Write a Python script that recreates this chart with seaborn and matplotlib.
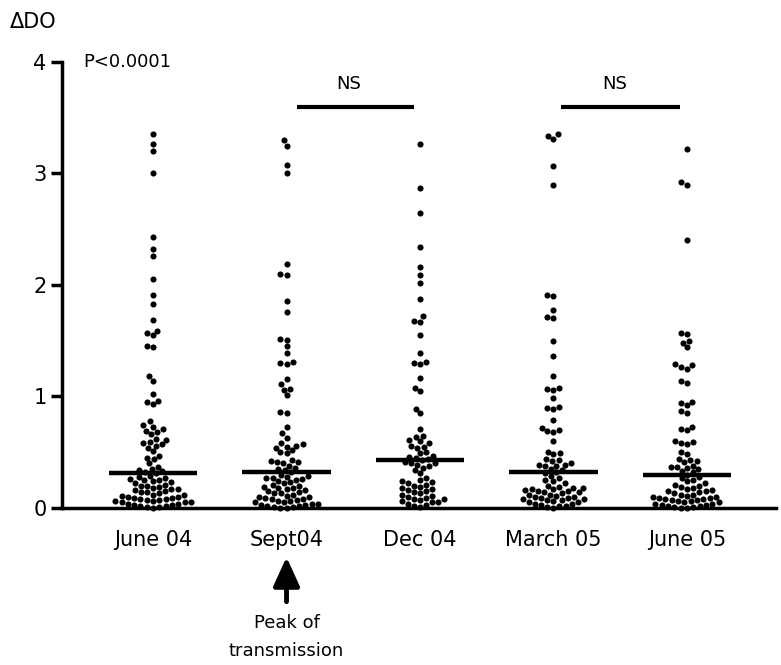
import matplotlib
matplotlib.use("Agg")
import matplotlib.pyplot as plt
import numpy as np
import pandas as pd
import seaborn as sns

# Time points
groups = ["June 04", "Sept04", "Dec 04", "March 05", "June 05"]

june04 = [3.35, 3.26, 3.20, 3.00, 2.43, 2.32, 2.26, 2.05, 1.91, 1.83, 1.69, 1.59,
          1.57, 1.55, 1.45, 1.44, 1.18, 1.14, 1.02, 0.96, 0.95, 0.93,
          0.78, 0.74, 0.73, 0.71, 0.69, 0.68, 0.66, 0.62, 0.61, 0.59, 0.58, 0.57,
          0.56, 0.54, 0.51, 0.47, 0.45, 0.44, 0.40, 0.37, 0.35, 0.34, 0.33, 0.32,
          0.31,
          0.29, 0.28, 0.27, 0.26, 0.25, 0.25, 0.24, 0.23, 0.22, 0.21, 0.20, 0.20,
          0.19, 0.18, 0.17, 0.17, 0.16, 0.15, 0.14, 0.14, 0.13, 0.12, 0.12, 0.11,
          0.10, 0.10, 0.09, 0.09, 0.08, 0.08, 0.07, 0.07, 0.06, 0.06, 0.05, 0.05,
          0.05, 0.04, 0.04, 0.03, 0.03, 0.02, 0.02, 0.01, 0.01, 0.00]
sept04 = [3.30, 3.25, 3.08, 3.00, 2.19, 2.10, 2.09, 1.86, 1.76, 1.52, 1.51, 1.45,
          1.39, 1.31, 1.30, 1.29, 1.16, 1.11, 1.07, 1.06, 1.01, 0.86, 0.85, 0.73,
          0.67, 0.63, 0.58, 0.57, 0.56, 0.55, 0.54, 0.52, 0.50, 0.49, 0.43, 0.42,
          0.41, 0.41, 0.40, 0.38, 0.36, 0.35, 0.34,
          0.32,
          0.30, 0.29, 0.28, 0.27, 0.27, 0.26, 0.25, 0.24, 0.23, 0.22, 0.21, 0.20,
          0.19, 0.18, 0.18, 0.17, 0.16, 0.15, 0.14, 0.13, 0.13, 0.12, 0.11, 0.10,
          0.10, 0.09, 0.08, 0.08, 0.07, 0.06, 0.06, 0.05, 0.05, 0.04, 0.04, 0.03,
          0.03, 0.02, 0.02, 0.01, 0.01, 0.00, 0.00]
dec04 = [3.26, 2.87, 2.65, 2.34, 2.16, 2.09, 2.02, 1.87, 1.72, 1.68, 1.67, 1.55,
         1.39, 1.31, 1.30, 1.29, 1.17, 1.08, 1.05, 0.89, 0.85, 0.71, 0.65, 0.64,
         0.61, 0.60, 0.58, 0.56, 0.55, 0.54, 0.50, 0.49, 0.47, 0.46, 0.45, 0.44,
         0.43,
         0.41, 0.40, 0.40, 0.39, 0.38, 0.36, 0.34, 0.31, 0.27, 0.25, 0.24, 0.23,
         0.22, 0.21, 0.20, 0.19, 0.18, 0.17, 0.16, 0.15, 0.14, 0.13, 0.12, 0.11,
         0.10, 0.09, 0.08, 0.08, 0.07, 0.06, 0.05, 0.05, 0.04, 0.03, 0.02, 0.01]
march05 = [3.35, 3.34, 3.31, 3.07, 2.90, 1.91, 1.90, 1.78, 1.71, 1.70, 1.50, 1.36,
           1.18, 1.08, 1.07, 1.06, 0.99, 0.91, 0.90, 0.89, 0.79, 0.72, 0.70, 0.69,
           0.68, 0.60, 0.50, 0.49, 0.48, 0.44, 0.43, 0.42, 0.40, 0.39, 0.39, 0.38,
           0.38, 0.35, 0.34,
           0.32,
           0.31, 0.29, 0.27, 0.25, 0.24, 0.22, 0.20, 0.19, 0.18, 0.18, 0.17, 0.17,
           0.16, 0.15, 0.15, 0.14, 0.14, 0.13, 0.12, 0.12, 0.11, 0.10, 0.10, 0.09,
           0.09, 0.08, 0.08, 0.07, 0.07, 0.06, 0.05, 0.05, 0.04, 0.04, 0.03, 0.02,
           0.02, 0.01, 0.00]
june05 = [3.22, 2.92, 2.90, 2.40, 1.57, 1.56, 1.50, 1.48, 1.44, 1.29, 1.28, 1.26,
          1.25, 1.14, 1.12, 0.95, 0.94, 0.92, 0.87, 0.85, 0.73, 0.71, 0.70, 0.60,
          0.59, 0.58, 0.57, 0.50, 0.48, 0.44, 0.43, 0.42, 0.41, 0.38, 0.37, 0.37,
          0.36, 0.35, 0.33, 0.32,
          0.30,
          0.28, 0.27, 0.25, 0.24, 0.22, 0.21, 0.20, 0.19, 0.18, 0.17, 0.16, 0.15,
          0.15, 0.14, 0.13, 0.12, 0.12, 0.11, 0.10, 0.10, 0.09, 0.09, 0.08, 0.08,
          0.07, 0.07, 0.06, 0.06, 0.05, 0.05, 0.04, 0.04, 0.03, 0.03, 0.02, 0.02,
          0.01, 0.01, 0.00, 0.00]

values = [june04, sept04, dec04, march05, june05]
df = pd.DataFrame({
    "group": np.repeat(groups, [len(v) for v in values]),
    "value": np.concatenate(values),
})

sns.set_style("ticks")
plt.rcParams["font.family"] = ["DejaVu Sans"]
plt.rcParams.update({
    "text.color": "black",
    "axes.edgecolor": "black",
    "xtick.color": "black",
    "ytick.color": "black",
    "axes.labelcolor": "black",
})

fig = plt.figure(figsize=(7.81, 6.65), dpi=100)
ax = fig.add_axes([0.0794, 0.2361, 0.9142, 0.6707])

sns.swarmplot(data=df, x="group", y="value", order=groups, color="black",
              size=4.4, ax=ax, warn_thresh=1)
for coll in ax.collections:
    coll.set_clip_on(False)

# median bars
medians = [np.median(v) for v in values]
ax.hlines(medians, np.arange(len(groups)) - 0.33, np.arange(len(groups)) + 0.33,
          color="black", lw=3.2, zorder=5)

ax.set_xlim(-0.682, 4.667)
ax.set_ylim(0, 4)
ax.set_yticks([0, 1, 2, 3, 4])
ax.set_xlabel("")
ax.set_ylabel("")
ax.tick_params(axis="x", length=0, pad=16, labelsize=15)
ax.tick_params(axis="y", length=8, width=2.5, labelsize=15, pad=3)
for s in ["left", "bottom"]:
    ax.spines[s].set_linewidth(2.5)
sns.despine(ax=ax)

fig.text(0.012, 0.967, "\u0394DO", fontsize=15, va="center", ha="left")
ax.text(-0.52, 4.0, "P<0.0001", fontsize=13, va="center", ha="left")

# NS brackets
for x0, x1 in [(1.08, 1.955), (3.06, 3.95)]:
    ax.plot([x0, x1], [3.6, 3.6], color="black", lw=3, solid_capstyle="butt",
            clip_on=False)
    ax.text((x0 + x1) / 2 - 0.05, 3.80, "NS", fontsize=13, ha="center", va="center")

# peak of transmission arrow
ax.annotate("", xy=(1, -0.44), xytext=(1, -0.84), annotation_clip=False,
            arrowprops=dict(arrowstyle="-|>,head_width=0.5,head_length=1.1",
                            color="black", lw=3.5, mutation_scale=16,
                            shrinkA=0, shrinkB=0))
ax.text(1, -0.95, "Peak of\ntransmission", fontsize=13, ha="center", va="top",
        linespacing=1.75, clip_on=False)

fig.savefig("out.png", dpi=100)
